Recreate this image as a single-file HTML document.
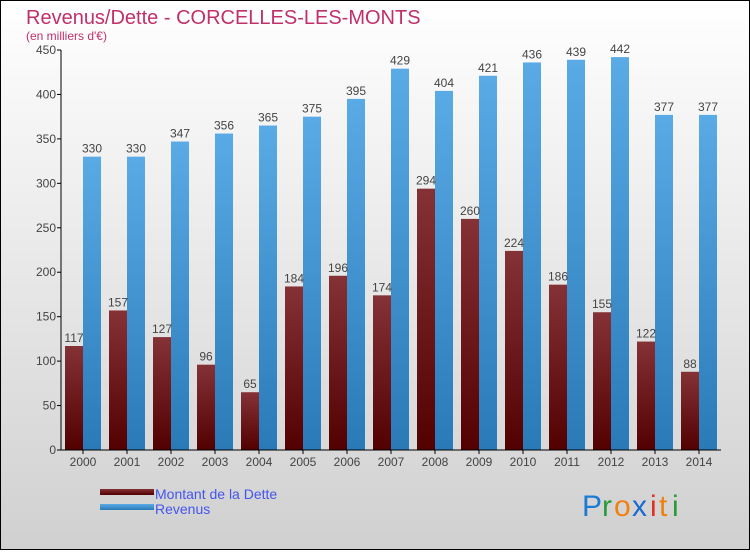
<!DOCTYPE html>
<html><head><meta charset="utf-8"><style>
body{margin:0;width:750px;height:550px;overflow:hidden;font-family:"Liberation Sans",sans-serif}
</style></head><body>
<svg width="750" height="550" xmlns="http://www.w3.org/2000/svg">
<defs>
<linearGradient id="bg" x1="0" y1="0" x2="0" y2="1"><stop offset="0" stop-color="#ffffff"/><stop offset="1" stop-color="#d0d0d0"/></linearGradient>
<linearGradient id="gd" x1="0" y1="0" x2="0" y2="1"><stop offset="0" stop-color="#843236"/><stop offset="1" stop-color="#520000"/></linearGradient>
<linearGradient id="gr" x1="0" y1="0" x2="0" y2="1"><stop offset="0" stop-color="#5aaae6"/><stop offset="1" stop-color="#2a7ab8"/></linearGradient>
</defs>
<rect x="0.5" y="0.5" width="749" height="549" fill="url(#bg)" stroke="#000"/>
<text x="26" y="24" font-size="20" fill="#c0306a">Revenus/Dette - CORCELLES-LES-MONTS</text>
<text x="26" y="40" font-size="12" fill="#c0306a">(en milliers d'€)</text>
<g id="plot"></g>
<rect x="100" y="489" width="54" height="6" fill="url(#gd)"/>
<text x="155" y="499" font-size="14" fill="#4455ee">Montant de la Dette</text>
<rect x="100" y="504" width="54" height="6" fill="url(#gr)"/>
<text x="155" y="514" font-size="14" fill="#4455ee">Revenus</text>
<g font-size="30">
<text x="582" y="516" fill="#1a7ad4">P</text><text x="602" y="516" fill="#2a9a3a">r</text><text x="614" y="516" fill="#f08010">o</text><text x="632" y="516" fill="#1a6ad0">x</text><text x="650" y="516" fill="#e03020">i</text><text x="659" y="516" fill="#f08010">t</text><text x="672" y="516" fill="#2a9a3a">i</text>
</g>
</svg>
<script>
const years=["2000","2001","2002","2003","2004","2005","2006","2007","2008","2009","2010","2011","2012","2013","2014"];
const dette=[117,157,127,96,65,184,196,174,294,260,224,186,155,122,88];
const revenus=[330,330,347,356,365,375,395,429,404,421,436,439,442,377,377];
const yTicks=[0,50,100,150,200,250,300,350,400,450];
const NS="http://www.w3.org/2000/svg";
const g=document.getElementById('plot');
const x0=61,cw=44,y0=450,yMax=450,ph=400,bw=18;
const Y=v=>y0-v/yMax*ph;
const X=i=>x0+cw/2+cw*i;
function mk(t,a){const e=document.createElementNS(NS,t);for(const k in a)e.setAttribute(k,a[k]);g.appendChild(e);return e;}
yTicks.forEach(v=>{
 const l=mk('line',{x1:x0-4,x2:x0,y1:Y(v),y2:Y(v),stroke:'#000'});
 
 
 const t=mk('text',{x:x0-5,y:Y(v)+4,'text-anchor':'end','font-size':12,fill:'#444'});t.textContent=v;
 
 
});
years.forEach((yr,i)=>{
 const cx=X(i);
 const d=mk('rect',{x:cx-bw,y:Y(dette[i]),width:bw,height:y0-Y(dette[i]),fill:'url(#gd)'});
 
 
 const r=mk('rect',{x:cx,y:Y(revenus[i]),width:bw,height:y0-Y(revenus[i]),fill:'url(#gr)'});
 
 
 const td=mk('text',{x:cx-bw/2,y:Y(dette[i])-4,'text-anchor':'middle','font-size':12,fill:'#444'});td.textContent=dette[i];
 
 
 const tr=mk('text',{x:cx+bw/2,y:Y(revenus[i])-4,'text-anchor':'middle','font-size':12,fill:'#444'});tr.textContent=revenus[i];
 
 
 const tk=mk('line',{x1:cx,x2:cx,y1:y0,y2:y0+4,stroke:'#000'});
 
 
 const tl=mk('text',{x:cx,y:y0+16,'text-anchor':'middle','font-size':12,fill:'#444'});tl.textContent=yr;
 
 
});
const ax=mk('line',{x1:x0,x2:x0,y1:Y(yMax),y2:y0,stroke:'#000'});


const bx=mk('line',{x1:x0,x2:x0+cw*years.length,y1:y0,y2:y0,stroke:'#000'});


</script>
</body></html>
